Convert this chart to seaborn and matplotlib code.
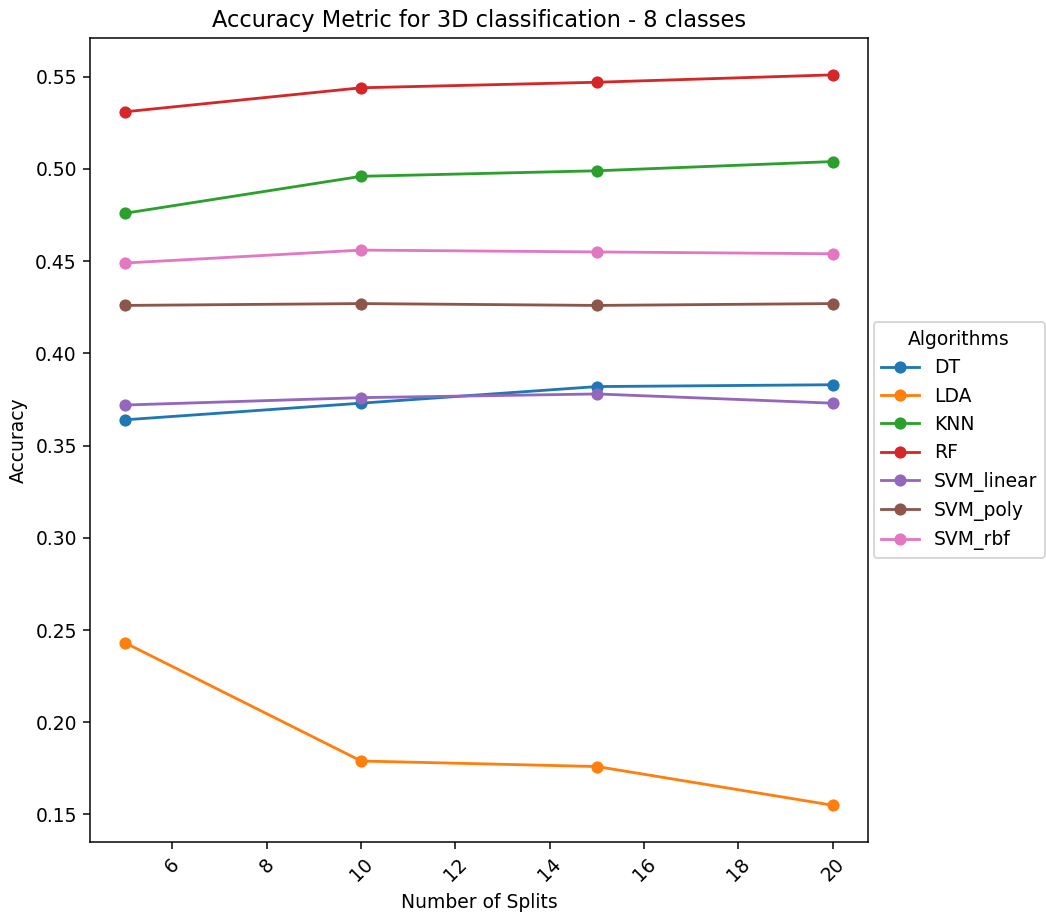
import pandas as pd
import matplotlib
matplotlib.use('Agg')
import matplotlib.pyplot as plt
import seaborn as sns

# data
splits = [5, 10, 15, 20]
algorithms = ['DT', 'LDA', 'KNN', 'RF', 'SVM_linear', 'SVM_poly', 'SVM_rbf']
dt = [0.364, 0.373, 0.382, 0.383]
lda = [0.243, 0.179, 0.176, 0.155]
knn = [0.476, 0.496, 0.499, 0.504]
rf = [0.531, 0.544, 0.547, 0.551]
svm_linear = [0.372, 0.376, 0.378, 0.373]
svm_poly = [0.426, 0.427, 0.426, 0.427]
svm_rbf = [0.449, 0.456, 0.455, 0.454]

values = [dt, lda, knn, rf, svm_linear, svm_poly, svm_rbf]
rows = []
for name, vals in zip(algorithms, values):
    for s, v in zip(splits, vals):
        rows.append({'Number of Splits': s, 'Accuracy': v, 'Algorithms': name})
df = pd.DataFrame(rows)

DPI = 135
fig, ax = plt.subplots(figsize=(1046 / DPI, 913 / DPI), dpi=DPI)
sns.lineplot(data=df, x='Number of Splits', y='Accuracy', hue='Algorithms',
             hue_order=algorithms, marker='o', markersize=6.5,
             markeredgewidth=0, ax=ax)

ax.set_title("Accuracy Metric for 3D classification - 8 classes")
ax.set_xlabel("Number of Splits")
ax.set_ylabel("Accuracy")
plt.xticks(rotation=45)
ax.legend(title='Algorithms', loc='center left', bbox_to_anchor=(0.995, 0.5))

fig.subplots_adjust(left=0.086, right=0.830, top=0.958, bottom=0.078)
fig.savefig('out.png', dpi=DPI)
